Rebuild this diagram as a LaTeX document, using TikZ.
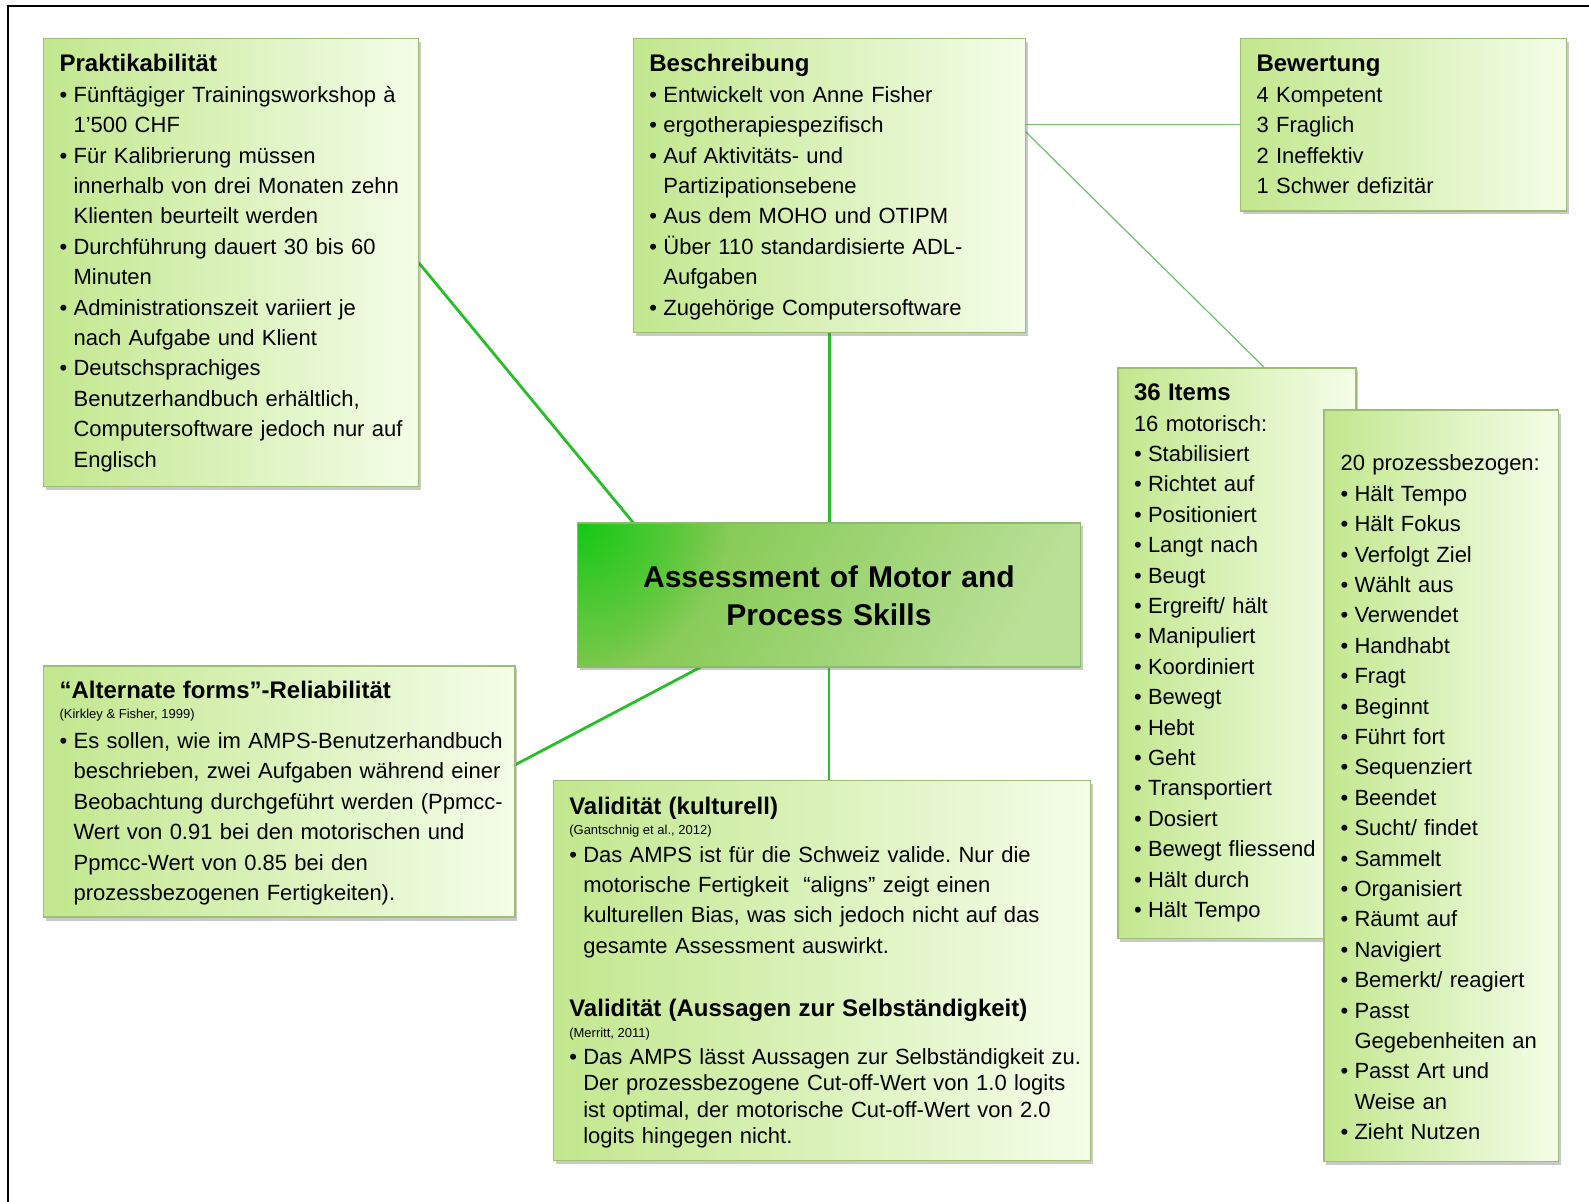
\documentclass[tikz,border=0pt]{standalone}
\usepackage{fontspec}
\setmainfont{Liberation Sans}
\usetikzlibrary{calc,shadows,fadings}
\definecolor{boxL}{RGB}{194,231,142}
\definecolor{boxR}{RGB}{244,253,232}
\definecolor{boxB}{RGB}{158,190,118}
\definecolor{ampsA}{RGB}{20,200,20}
\definecolor{ampsM}{RGB}{128,200,78}
\definecolor{ampsC}{RGB}{186,224,152}
\definecolor{ampsB}{RGB}{138,186,108}
\definecolor{linkG}{RGB}{40,190,40}
\definecolor{linkT}{RGB}{110,190,110}
\pgfdeclarehorizontalshading{ampsbase}{100bp}{color(0bp)=(ampsM); color(28bp)=(ampsM); color(75bp)=(ampsC); color(100bp)=(ampsC)}
\tikzfading[name=cornerglow, inner color=transparent!0, outer color=transparent!100]
\newcommand{\bodyf}{\fontsize{11}{15.2}\selectfont\frenchspacing}
\newcommand{\titf}{\fontsize{12}{15.2}\selectfont\bfseries}
\newcommand{\citf}{\fontsize{6.5}{8}\selectfont\spaceskip=0pt\relax}
\newcommand{\bit}[1]{\makebox[7pt][l]{\textbullet}#1}
\newcommand{\cnt}[1]{\hspace*{7pt}#1}
\pgfdeclarelayer{paper}
\pgfdeclarelayer{bg}
\pgfsetlayers{paper,bg,main}
\begin{document}
\begin{tikzpicture}[x=0.5pt,y=-0.5pt,
 card/.style={draw=boxB, line width=0.8pt, left color=boxL, right color=boxR,
   drop shadow={shadow xshift=1.2pt,shadow yshift=-1.8pt,opacity=0.35,fill=black!60},
   inner sep=0pt, outer sep=0pt, anchor=north west},
 cardtext/.style={anchor=base west, inner sep=0pt, outer sep=0pt, align=left, text width=400pt, font=\bodyf},
 mainlink/.style={draw=linkG, line width=1.4pt},
 sublink/.style={draw=linkT, line width=0.6pt}
]
\useasboundingbox (0,0) rectangle (1589,1202);
\begin{pgfonlayer}{paper}
\fill[white] (0,0) rectangle (1589,1202);
\end{pgfonlayer}
\draw[line width=1pt] (8,1230) -- (8,6.5) -- (1620,6.5);

% boxes
\node[card, minimum width=187.45pt, minimum height=223.95pt] (prak) at (43.6,38.5) {};
\node[card, minimum width=196.1pt, minimum height=146.95pt] (besch) at (633.4,38.5) {};
\node[card, minimum width=163pt, minimum height=86.15pt] (bew) at (1240.5,38.5) {};
\node[card, minimum width=119pt, minimum height=285.25pt] (items) at (1117.8,367.9) {};
\node[card, minimum width=117.15pt, minimum height=375.75pt] (proz) at (1324,410) {};
\node[card, minimum width=235.6pt, minimum height=125.65pt] (alt) at (43.6,665.8) {};
\node[card, minimum width=268.55pt, minimum height=190pt] (valid) at (553.3,780.3) {};
\node[shading=ampsbase, shading angle=-30,
   drop shadow={shadow xshift=1.2pt,shadow yshift=-1.8pt,opacity=0.35,fill=black!60},
   inner sep=0pt, outer sep=0pt, anchor=north west, minimum width=251.35pt, minimum height=71.95pt] (amps) at (577.6,522.9) {};
\begin{scope}
\clip (amps.north west) rectangle (amps.south east);
\fill[ampsA, path fading=cornerglow] (amps.north west) circle (150);
\end{scope}
\draw[draw=ampsB, line width=0.8pt] (amps.north west) rectangle (amps.south east);

% texts
\node[cardtext] (prakT) at (59.6,72) {{\titf Praktikabilität}\\
\bit{Fünftägiger Trainingsworkshop à}\\
\cnt{1’500 CHF}\\
\bit{Für Kalibrierung müssen}\\
\cnt{innerhalb von drei Monaten zehn}\\
\cnt{Klienten beurteilt werden}\\
\bit{Durchführung dauert 30 bis 60}\\
\cnt{Minuten}\\
\bit{Administrationszeit variiert je}\\
\cnt{nach Aufgabe und Klient}\\
\bit{Deutschsprachiges}\\
\cnt{Benutzerhandbuch erhältlich,}\\
\cnt{Computersoftware jedoch nur auf}\\
\cnt{Englisch}};

\node[cardtext] (beschT) at (649.4,72) {{\titf Beschreibung}\\
\bit{Entwickelt von Anne Fisher}\\
\bit{ergotherapiespezifisch}\\
\bit{Auf Aktivitäts- und}\\
\cnt{Partizipationsebene}\\
\bit{Aus dem MOHO und OTIPM}\\
\bit{Über 110 standardisierte ADL-}\\
\cnt{Aufgaben}\\
\bit{Zugehörige Computersoftware}};

\node[cardtext] (bewT) at (1256.5,72) {{\titf Bewertung}\\
4 Kompetent\\
3 Fraglich\\
2 Ineffektiv\\
1 Schwer defizitär};

\node[cardtext] (itemsT) at (1134,400.7) {{\titf 36 Items}\\
16 motorisch:\\
\bit{Stabilisiert}\\
\bit{Richtet auf}\\
\bit{Positioniert}\\
\bit{Langt nach}\\
\bit{Beugt}\\
\bit{Ergreift/ hält}\\
\bit{Manipuliert}\\
\bit{Koordiniert}\\
\bit{Bewegt}\\
\bit{Hebt}\\
\bit{Geht}\\
\bit{Transportiert}\\
\bit{Dosiert}\\
\bit{Bewegt fliessend}\\
\bit{Hält durch}\\
\bit{Hält Tempo}};

\node[cardtext] (prozT) at (1340.5,471) {20 prozessbezogen:\\
\bit{Hält Tempo}\\
\bit{Hält Fokus}\\
\bit{Verfolgt Ziel}\\
\bit{Wählt aus}\\
\bit{Verwendet}\\
\bit{Handhabt}\\
\bit{Fragt}\\
\bit{Beginnt}\\
\bit{Führt fort}\\
\bit{Sequenziert}\\
\bit{Beendet}\\
\bit{Sucht/ findet}\\
\bit{Sammelt}\\
\bit{Organisiert}\\
\bit{Räumt auf}\\
\bit{Navigiert}\\
\bit{Bemerkt/ reagiert}\\
\bit{Passt}\\
\cnt{Gegebenheiten an}\\
\bit{Passt Art und}\\
\cnt{Weise an}\\
\bit{Zieht Nutzen}};

\node[cardtext] (altT) at (59.6,698) {{\titf “Alternate forms”-Reliabilität}\\[-4.95pt]
{\citf (Kirkley \& Fisher, 1999)}\\[-0.2pt]
\bit{Es sollen, wie im AMPS-Benutzerhandbuch}\\
\cnt{beschrieben, zwei Aufgaben während einer}\\
\cnt{Beobachtung durchgeführt werden (Ppmcc-}\\
\cnt{Wert von 0.91 bei den motorischen und}\\
\cnt{Ppmcc-Wert von 0.85 bei den}\\
\cnt{prozessbezogenen Fertigkeiten).}};

\node[cardtext] (validA) at (569.3,814) {{\titf Validität (kulturell)}\\[-4.95pt]
{\citf (Gantschnig et al., 2012)}\\[-1.45pt]
\bit{Das AMPS ist für die Schweiz valide. Nur die}\\
\cnt{motorische Fertigkeit\ \ “aligns” zeigt einen}\\
\cnt{kulturellen Bias, was sich jedoch nicht auf das}\\
\cnt{gesamte Assessment auswirkt.}};

\node[cardtext, font=\fontsize{11}{13.15}\selectfont\frenchspacing] (validB) at (569.3,1016.5) {{\fontsize{12}{13.15}\selectfont\bfseries Validität (Aussagen zur Selbständigkeit)}\\[-2.65pt]
{\citf (Merritt, 2011)}\\[0.35pt]
\bit{Das AMPS lässt Aussagen zur Selbständigkeit zu.}\\
\cnt{Der prozessbezogene Cut-off-Wert von 1.0 logits}\\
\cnt{ist optimal, der motorische Cut-off-Wert von 2.0}\\
\cnt{logits hingegen nicht.}};

\node[font=\fontsize{15}{19}\selectfont\bfseries, align=center, text width=250pt, anchor=base, inner sep=0pt] (ampsT) at (828.95,588) {Assessment of Motor and\\Process Skills};

% connectors
\begin{pgfonlayer}{bg}
\draw[mainlink] (prak.east) -- ($(amps.north west)+(55.8,0)$);
\draw[mainlink] (besch.south) -- (besch.south |- amps.north);
\draw[mainlink] ($(alt.north east)+(0,99.2)$) -- ($(amps.south west)+(123.7,0)$);
\draw[mainlink] (amps.south) -- (amps.south |- valid.north);
\draw[sublink] (bew.west -| besch.east) -- (bew.west);
\draw[sublink] ($(besch.north east)+(0,93.2)$) -- ($(items.north west)+(146.9,0)$);
\end{pgfonlayer}
\end{tikzpicture}
\end{document}
